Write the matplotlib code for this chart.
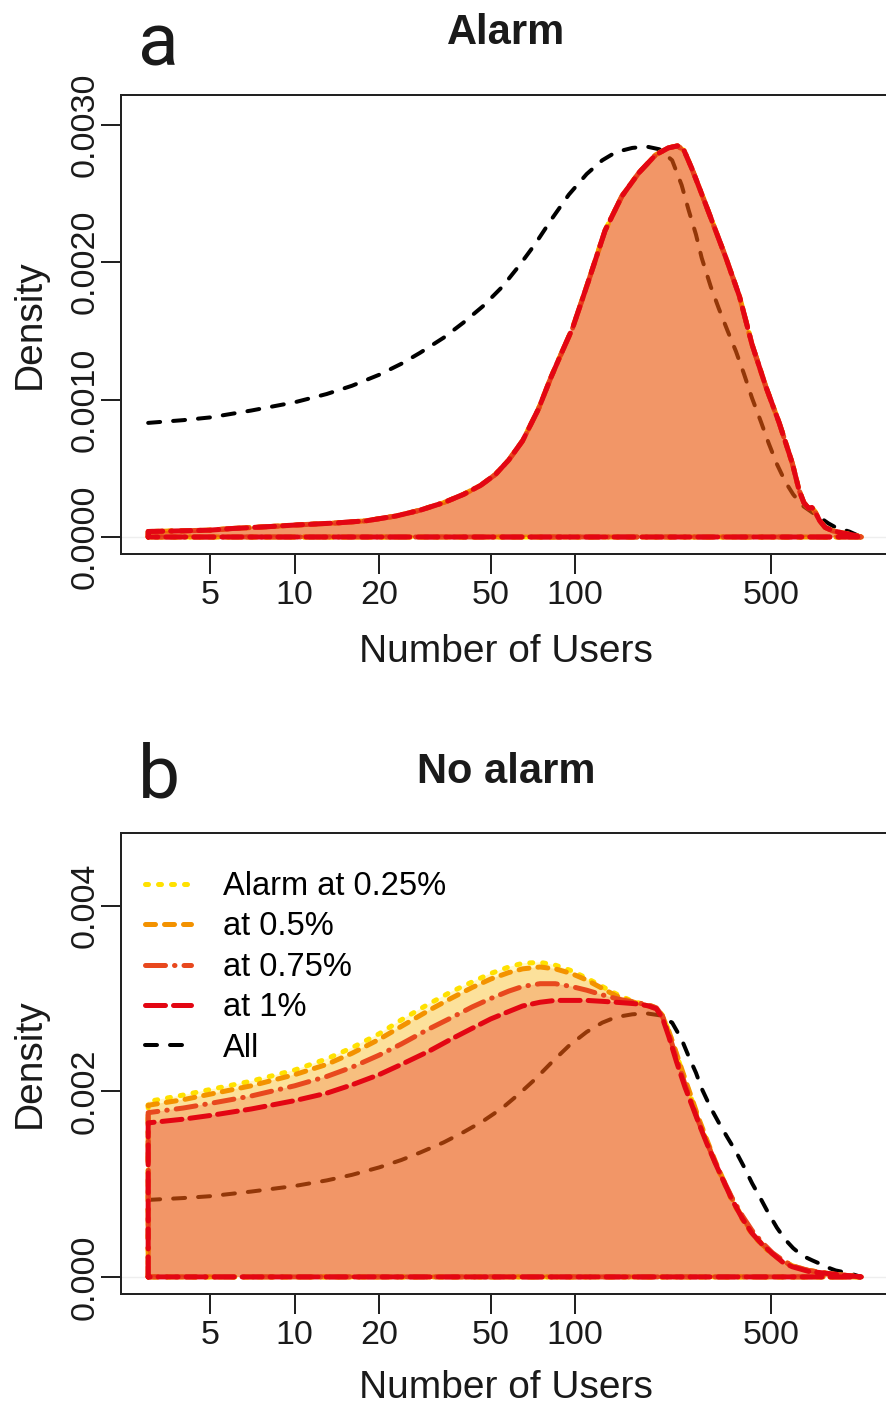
import matplotlib
matplotlib.use("Agg")
import matplotlib.pyplot as plt
from matplotlib.lines import Line2D

plt.rcParams['font.family'] = ['Liberation Sans', 'DejaVu Sans']
plt.rcParams['lines.scale_dashes'] = False

# ---------------- data ----------------
# density of the number of users, all stations
users_all = [3, 4, 5, 7, 10, 13, 16, 20, 24, 28, 34, 40, 47, 55, 63, 72, 83, 95,
             110, 125, 140, 160, 180, 200, 222, 240, 254, 270, 283, 305, 326, 350,
             375, 400, 428, 460, 491, 525, 563, 600, 646, 700, 750, 800, 850, 950, 1050]
dens_all = [0.00083, 0.00085, 0.00087, 0.00092, 0.00098, 0.00104, 0.00110, 0.00118,
            0.00126, 0.00134, 0.00145, 0.00156, 0.00168, 0.00182, 0.00197, 0.00213,
            0.00232, 0.00249, 0.00264, 0.00274, 0.00280, 0.00283, 0.00284, 0.00282,
            0.00274, 0.00256, 0.00238, 0.00220, 0.00203, 0.00182, 0.00166, 0.00150,
            0.00135, 0.00119, 0.00101, 0.00084, 0.00068, 0.00053, 0.00040, 0.00031,
            0.00023, 0.00018, 0.00014, 0.00010, 0.00007, 0.00004, 0.0]

# panel a: stations that raised an alarm (all thresholds give the same curve)
users_a = [3, 4, 5, 6, 8, 10, 14, 18, 23, 28, 34, 40, 46, 52, 58, 65, 74, 82, 90,
           98, 112, 128, 147, 169, 194, 215, 232, 245, 261, 280, 300, 344, 386, 428,
           480, 535, 595, 630, 655, 680, 700, 720, 745, 780, 830, 900, 980, 1050]
alarm_a = [0.000040, 0.000045, 0.000050, 0.000062, 0.000075, 0.000087, 0.000102,
           0.000118, 0.000153, 0.000195, 0.000250, 0.000310, 0.000375, 0.000455,
           0.000560, 0.000700, 0.000930, 0.001160, 0.001350, 0.001520, 0.001870,
           0.002230, 0.002480, 0.002650, 0.002780, 0.002830, 0.002845, 0.002810,
           0.002680, 0.002520, 0.002360, 0.002040, 0.001750, 0.001400, 0.001090,
           0.000830, 0.000540, 0.000340, 0.000250, 0.000210, 0.000215, 0.000180,
           0.000120, 0.000070, 0.000045, 0.000030, 0.000015, 0.0]

# panel b: stations without an alarm, one curve per threshold
users_b = [3, 4, 5, 7, 10, 13, 16, 20, 24, 30, 36, 43, 50, 58, 65, 75, 85, 97, 110,
           125, 140, 155, 170, 183, 195, 205, 216, 230, 247, 262, 276, 295, 317, 340,
           362, 395, 428, 465, 506, 550, 595, 680, 785, 900, 1050]
noalarm_025 = [0.00189, 0.00196, 0.00202, 0.00211, 0.00223, 0.00235, 0.00247, 0.00262,
               0.00277, 0.00294, 0.00307, 0.00318, 0.00327, 0.00334, 0.00338, 0.00339,
               0.00336, 0.00330, 0.00322, 0.00313, 0.00305, 0.00299, 0.00295, 0.00293,
               0.00290, 0.00282, 0.00265, 0.00240, 0.00212, 0.00189, 0.00169, 0.00146,
               0.00122, 0.00101, 0.00083, 0.00062, 0.00046, 0.00034, 0.00024, 0.00017,
               0.00012, 0.00007, 0.00004, 0.00002, 0.0]
noalarm_050 = [0.00185, 0.00191, 0.00197, 0.00206, 0.00218, 0.00229, 0.00241, 0.00256,
               0.00270, 0.00287, 0.00300, 0.00312, 0.00321, 0.00328, 0.00332, 0.00334,
               0.00332, 0.00327, 0.00320, 0.00311, 0.00303, 0.00298, 0.00294, 0.00292,
               0.00289, 0.00281, 0.00265, 0.00241, 0.00213, 0.00191, 0.00171, 0.00148,
               0.00124, 0.00103, 0.00085, 0.00064, 0.00048, 0.00035, 0.00025, 0.00018,
               0.00012, 0.00007, 0.00004, 0.00002, 0.0]
noalarm_075 = [0.00177, 0.00182, 0.00187, 0.00195, 0.00206, 0.00216, 0.00226, 0.00239,
               0.00251, 0.00267, 0.00279, 0.00291, 0.00300, 0.00308, 0.00313, 0.00316,
               0.00316, 0.00313, 0.00309, 0.00304, 0.00300, 0.00297, 0.00295, 0.00293,
               0.00290, 0.00281, 0.00262, 0.00236, 0.00207, 0.00186, 0.00167, 0.00145,
               0.00123, 0.00103, 0.00086, 0.00066, 0.00050, 0.00037, 0.00026, 0.00018,
               0.00012, 0.00007, 0.00004, 0.00002, 0.0]
noalarm_100 = [0.00166, 0.00170, 0.00174, 0.00181, 0.00190, 0.00198, 0.00207, 0.00218,
               0.00229, 0.00243, 0.00256, 0.00268, 0.00278, 0.00286, 0.00292, 0.00296,
               0.00298, 0.00298, 0.00298, 0.00297, 0.00296, 0.00295, 0.00294, 0.00292,
               0.00289, 0.00279, 0.00259, 0.00232, 0.00204, 0.00184, 0.00166, 0.00144,
               0.00122, 0.00102, 0.00084, 0.00063, 0.00047, 0.00035, 0.00025, 0.00016,
               0.00011, 0.00006, 0.00004, 0.00002, 0.0]

level_labels = ["Alarm at 0.25%", "at 0.5%", "at 0.75%", "at 1%"]
all_label = "All"
xticks = [5, 10, 20, 50, 100, 500]
yticks_a = [0.0, 0.001, 0.002, 0.003]
yticklabels_a = ["0.0000", "0.0010", "0.0020", "0.0030"]
yticks_b = [0.0, 0.002, 0.004]
yticklabels_b = ["0.000", "0.002", "0.004"]

# ---------------- styles ----------------
PX = 0.72  # points per pixel at dpi 100
line_colors = ['#FFE100', '#F39200', '#E8481E', '#E30613']
line_styles = [
    (0, (3 * PX, 10 * PX)),                         # dotted
    (0, (10 * PX, 9 * PX)),                         # dashed
    (0, (20 * PX, 9 * PX, 0.5 * PX, 9 * PX)),       # dot-dash
    (0, (20 * PX, 8 * PX)),                         # long dash
]
all_style = (0, (12 * PX, 13 * PX))
fill_alpha = 0.22
lw_level = 5 * PX
lw_all = 4 * PX
TXT = '#1a1a1a'

W, H = 887, 1406
fig = plt.figure(figsize=(W / 100, H / 100), dpi=100)


def add_axes(left, right, top, bottom):
    return fig.add_axes([left / W, 1 - bottom / H, (right - left) / W, (bottom - top) / H])


ax_a = add_axes(121, 891, 95, 554)
ax_b = add_axes(121, 891, 833, 1294)


def draw_panel(ax, users, curves):
    ax.axhline(0, color='#EEEEEE', lw=1, zorder=0)
    ax.plot(users_all, dens_all, color='black', lw=lw_all, linestyle=all_style,
            dash_capstyle='round', zorder=1)
    for i, dens in enumerate(curves):
        px = [users[0]] + list(users) + [users[-1]]
        py = [0.0] + list(dens) + [0.0]
        poly, = ax.fill(px, py, zorder=2 + i)
        poly.set_facecolor(matplotlib.colors.to_rgba(line_colors[i], fill_alpha))
        poly.set_edgecolor(line_colors[i])
        poly.set_linewidth(lw_level)
        poly.set_linestyle(line_styles[i])
        poly.set_capstyle('round')
        poly.set_joinstyle('round')


def style_axes(ax, ylim, yticks, yticklabels):
    ax.set_xscale('log')
    ax.set_xlim(2.40, 1340)
    ax.set_ylim(*ylim)
    ax.xaxis.set_major_locator(matplotlib.ticker.FixedLocator(xticks))
    ax.xaxis.set_minor_locator(matplotlib.ticker.NullLocator())
    ax.set_xticklabels([str(t) for t in xticks])
    ax.set_yticks(yticks)
    ax.set_yticklabels(yticklabels, rotation=90, va='center')
    ax.tick_params(axis='both', length=20 * PX, width=2 * PX, color='#222222',
                   labelsize=24.5, labelcolor=TXT)
    ax.tick_params(axis='x', pad=6 * PX)
    ax.tick_params(axis='y', pad=0)
    for s in ax.spines.values():
        s.set_linewidth(2 * PX)
        s.set_color('#222222')
    ax.set_xlabel("Number of Users", fontsize=28, color=TXT)
    ax.set_ylabel("Density", fontsize=28, color=TXT)


def panel_text(ax, title, letter, top, bottom, title_y, letter_xy):
    h = bottom - top
    ax.xaxis.set_label_coords(0.5, (bottom - (title_y[1])) / h)
    ax.xaxis.label.set_va('center')
    ax.yaxis.set_label_coords((30 - 121) / 770, 0.5)
    ax.yaxis.label.set_va('center')
    ax.text(0.5, 1 + (top - title_y[0]) / h, title, transform=ax.transAxes,
            ha='center', va='center', fontsize=30, fontweight='bold', color=TXT)
    ax.text((letter_xy[0] - 121) / 770, 1 + (top - letter_xy[1]) / h, letter,
            transform=ax.transAxes, ha='center', va='center', fontsize=54,
            family=['Roboto', 'Lato', 'DejaVu Sans'], fontweight='normal', color=TXT)


draw_panel(ax_a, users_a, [alarm_a] * 4)
style_axes(ax_a, (-0.0001236, 0.003215), yticks_a, yticklabels_a)
panel_text(ax_a, "Alarm", "a", 95, 554, (33, 652), (158, 45))

draw_panel(ax_b, users_b, [noalarm_025, noalarm_050, noalarm_075, noalarm_100])
style_axes(ax_b, (-0.000184, 0.004784), yticks_b, yticklabels_b)
panel_text(ax_b, "No alarm", "b", 833, 1294, (772, 1388), (159, 777))

handles = [Line2D([], [], color=line_colors[i], lw=lw_level, linestyle=line_styles[i],
                  dash_capstyle='round') for i in range(4)]
handles.append(Line2D([], [], color='black', lw=lw_all, linestyle=all_style,
                      dash_capstyle='round'))
ax_b.legend(handles, level_labels + [all_label], loc='upper left',
            bbox_to_anchor=((145 - 121) / 770, 1 - (871 - 833) / 461),
            frameon=False, fontsize=23.5, handlelength=1.4, handletextpad=1.0,
            labelspacing=0.29, borderaxespad=0, borderpad=0)

fig.savefig("out.png", dpi=100)
